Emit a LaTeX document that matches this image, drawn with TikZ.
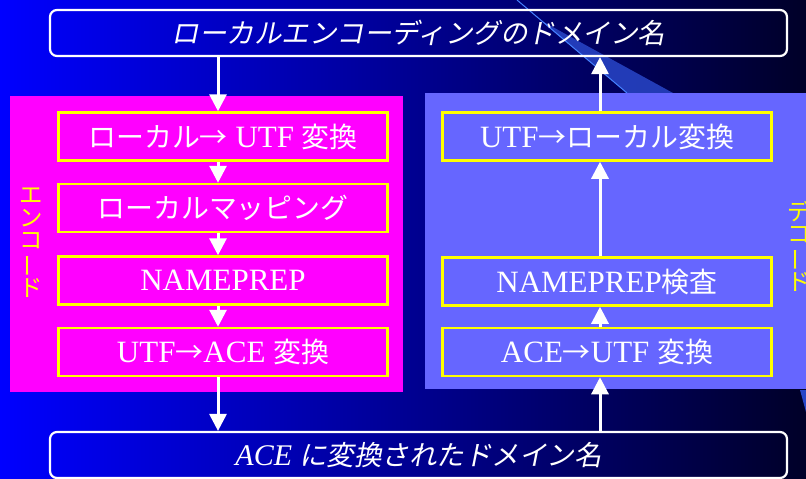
\documentclass[tikz,border=0pt]{standalone}
\usepackage{fontspec}
\setmainfont{Liberation Serif}
\newfontfamily\jp{Noto Sans CJK JP}[Scale=0.9]
\newfontfamily\jpit{Noto Sans CJK JP}[FakeSlant=0.2]
\usetikzlibrary{arrows.meta}
\definecolor{mag}{RGB}{255,0,255}
\definecolor{lav}{RGB}{102,102,255}
\definecolor{ylw}{RGB}{255,255,0}
\definecolor{bgL}{RGB}{0,0,255}
\definecolor{bgM}{RGB}{0,0,175}
\definecolor{bgR}{RGB}{0,0,40}
\definecolor{stripe}{RGB}{40,70,200}
\definecolor{stripeline}{RGB}{70,130,255}
\newcommand{\ra}{{\jp →}}
\begin{document}
\begin{tikzpicture}[x=1pt,y=-1pt,
  stepbox/.style={draw=ylw, line width=2.5pt, minimum width=329pt, minimum height=48pt, inner sep=0pt, text=white, font=\fontsize{31}{31}\selectfont},
  namebox/.style={draw=white, line width=2.2pt, rounded corners=7pt, minimum width=737pt, minimum height=46pt, inner sep=0pt, text=white},
  vlabel/.style={text=ylw, align=center, inner sep=0pt, font=\jp\fontsize{26}{22.5}\selectfont},
  arr/.style={white, line width=3pt, -{Triangle[width=17pt,length=17pt]}}
]
\useasboundingbox (0,0) rectangle (806,479);
\shade[left color=bgL, middle color=bgM, right color=bgR] (0,0) rectangle (806,479);
% decorative stripe
\fill[stripe, opacity=0.85] (540,20) -- (673,93) -- (627,93) -- cycle;
\draw[stripeline, line width=1pt] (517,0) -- (627,93);
\fill[stripe] (800,390) -- (806,390) -- (806,412) -- cycle;
% panels
\fill[mag] (10,96) rectangle (403,392);
\fill[lav] (425,93) rectangle (806,389);
% name boxes
\node[namebox] (top) at (418.5,33) {\jpit\fontsize{27.5}{28}\selectfont ローカルエンコーディングのドメイン名};
\node[namebox] (bot) at (418.5,455) {{\fontsize{30}{30}\selectfont\itshape ACE}\hspace{7pt}{\jpit\fontsize{27.5}{28}\selectfont に変換されたドメイン名}};
% encode steps
\node[stepbox] (b1) at (223,136.5) {{\jp ローカル}\ra{} UTF {\jp 変換}};
\node[stepbox] (b2) at (223,208) {\jp ローカルマッピング};
\node[stepbox] (b3) at (223,280.5) {NAMEPREP};
\node[stepbox] (b4) at (223,352) {UTF\ra ACE {\jp 変換}};
% decode steps
\node[stepbox] (r1) at (607,136.5) {UTF\ra{\jp ローカル変換}};
\node[stepbox] (r2) at (607,281.5) {NAMEPREP{\jp 検査}};
\node[stepbox] (r3) at (607,352) {ACE\ra UTF {\jp 変換}};
% side labels
\node[vlabel] (enc) at (31,243) {エ\\ン\\コ\\\rotatebox[origin=c]{90}{ー}\\ド};
\node[vlabel] (dec) at (799,246) {デ\\コ\\\rotatebox[origin=c]{90}{ー}\\ド};
% arrows
\coordinate (ax) at (218,0);
\coordinate (bx) at (600,0);
\draw[arr] (top.south -| ax) -- (b1.north -| ax);
\draw[arr] (b1.south -| ax) -- (b2.north -| ax);
\draw[arr] (b2.south -| ax) -- (b3.north -| ax);
\draw[arr] (b3.south -| ax) -- (b4.north -| ax);
\draw[arr] (b4.south -| ax) -- (bot.north -| ax);
\draw[arr] (bot.north -| bx) -- (r3.south -| bx);
\draw[arr] (r3.north -| bx) -- (r2.south -| bx);
\draw[arr] (r2.north -| bx) -- (r1.south -| bx);
\draw[arr] (r1.north -| bx) -- (top.south -| bx);
\end{tikzpicture}
\end{document}
